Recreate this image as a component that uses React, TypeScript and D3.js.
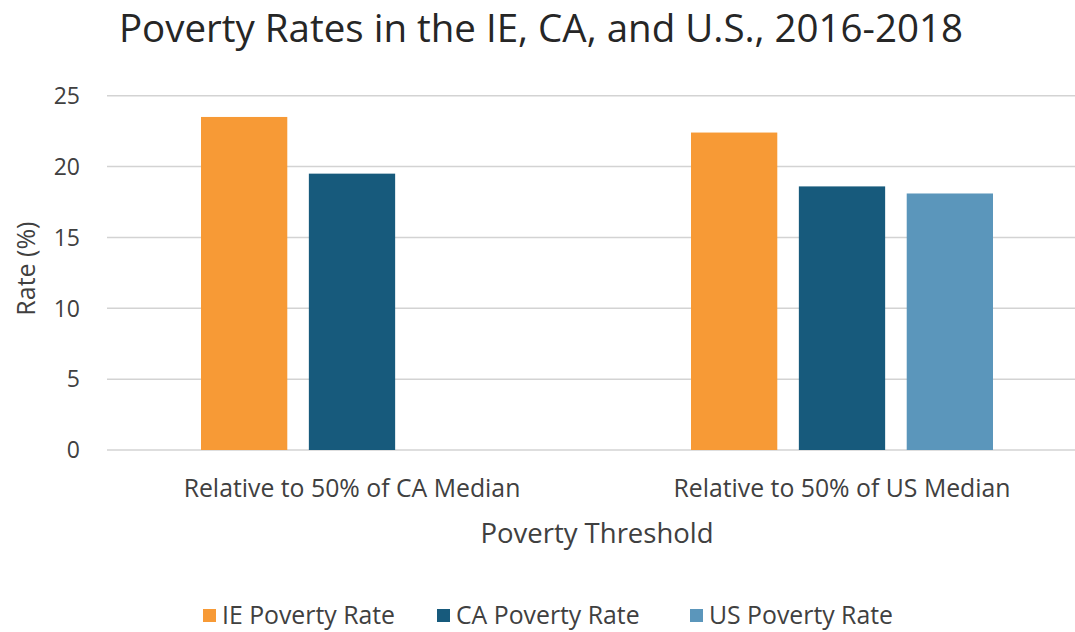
import React, { useEffect, useRef } from 'react';
import * as d3 from 'd3';

const categories = ['Relative to 50% of CA Median', 'Relative to 50% of US Median'];
const series = ['IE Poverty Rate', 'CA Poverty Rate', 'US Poverty Rate'];
const ieRates = [23.5, 22.4];
const caRates = [19.5, 18.6];
const usRates: (number | null)[] = [null, 18.1];
const yTicks = [0, 5, 10, 15, 20, 25];
const colors = ['#F79A36', '#175A7C', '#5B96BB'];

const FONT = '"Open Sans", "Noto Sans", sans-serif';

const App = () => {
  const chartRef = useRef<SVGSVGElement | null>(null);

  useEffect(() => {
    document.body.style.margin = '0';
    const width = 1075;
    const height = 632;
    const svg = d3.select(chartRef.current).attr('width', width).attr('height', height);
    svg.selectAll('*').remove();

    const values = [ieRates, caRates, usRates];
    const rows = categories.map((c, i) => ({
      cat: c,
      bars: series.map((s, j) => ({ s, j, v: values[j][i] })),
    }));

    const x0 = d3.scaleBand().domain(categories).range([107, 1087]).padding(0);
    const groupW = 302;
    const x1 = d3.scaleBand()
      .domain(series)
      .range([(x0.bandwidth() - groupW) / 2, (x0.bandwidth() + groupW) / 2])
      .paddingInner(0.2);
    const y = d3.scaleLinear().domain([0, 25]).range([450, 95.7]);

    // title
    svg.append('text')
      .attr('x', 541).attr('y', 42)
      .attr('text-anchor', 'middle')
      .attr('font-family', FONT).attr('font-size', 38.5)
      .attr('fill', '#262626')
      .text('Poverty Rates in the IE, CA, and U.S., 2016-2018');

    // gridlines
    svg.append('g')
      .selectAll('line')
      .data(yTicks)
      .enter().append('line')
      .attr('x1', 107).attr('x2', 1087)
      .attr('y1', d => y(d)).attr('y2', d => y(d))
      .attr('stroke', '#d3d3d3').attr('stroke-width', 1.5);

    // y axis labels
    svg.append('g')
      .selectAll('text')
      .data(yTicks)
      .enter().append('text')
      .attr('x', 80).attr('y', d => y(d))
      .attr('dy', '0.36em')
      .attr('text-anchor', 'end')
      .attr('font-family', FONT).attr('font-size', 23)
      .attr('fill', '#404040')
      .text(d => d);

    svg.append('text')
      .attr('transform', `translate(35, ${y(12.8)}) rotate(-90)`)
      .attr('text-anchor', 'middle')
      .attr('font-family', FONT).attr('font-size', 25)
      .attr('fill', '#404040')
      .text('Rate (%)');

    // bars
    const groups = svg.append('g')
      .selectAll('g')
      .data(rows)
      .enter().append('g')
      .attr('transform', d => `translate(${x0(d.cat)}, 0)`);

    groups.selectAll('rect')
      .data(d => d.bars.filter(b => b.v != null))
      .enter().append('rect')
      .attr('x', d => x1(d.s) as number)
      .attr('width', x1.bandwidth())
      .attr('y', d => y(d.v as number))
      .attr('height', d => y(0) - y(d.v as number))
      .attr('fill', d => colors[d.j]);

    // x labels
    svg.append('g')
      .selectAll('text')
      .data(categories)
      .enter().append('text')
      .attr('x', d => (x0(d) as number) + x0.bandwidth() / 2)
      .attr('y', 497)
      .attr('text-anchor', 'middle')
      .attr('font-family', FONT).attr('font-size', 24.8)
      .attr('fill', '#404040')
      .text(d => d);

    svg.append('text')
      .attr('x', 597).attr('y', 543)
      .attr('text-anchor', 'middle')
      .attr('font-family', FONT).attr('font-size', 27.5)
      .attr('fill', '#404040')
      .text('Poverty Threshold');

    // legend
    const legendX = [203, 437, 690];
    const leg = svg.append('g')
      .selectAll('g')
      .data(series)
      .enter().append('g')
      .attr('transform', (d, i) => `translate(${legendX[i]}, 615)`);
    leg.append('rect')
      .attr('x', 0).attr('y', -6).attr('width', 13).attr('height', 13)
      .attr('fill', (d, i) => colors[i]);
    leg.append('text')
      .attr('x', 19).attr('y', 0).attr('dy', '0.36em')
      .attr('font-family', FONT).attr('font-size', 24.8)
      .attr('fill', '#404040')
      .text(d => d);

    svg.append('text')
      .attr('x', 18).attr('y', 648)
      .attr('font-family', FONT).attr('font-size', 22)
      .attr('fill', '#404040')
      .text('Figure 2');
  }, []);

  return (
    <div style={{ width: 1075, height: 632, overflow: 'hidden' }}>
      <svg ref={chartRef} style={{ display: 'block' }}></svg>
    </div>
  );
};

export default App;
